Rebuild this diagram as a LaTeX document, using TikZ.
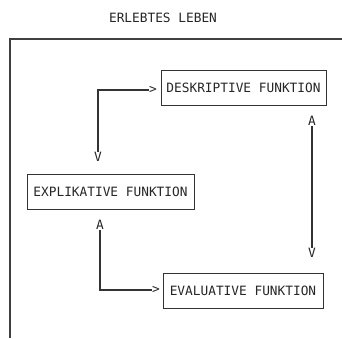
\documentclass[tikz,border=0pt]{standalone}
\usepackage{fontspec}
\newfontfamily\plotfont{DejaVu Sans Mono}
\begin{document}
\begin{tikzpicture}[x=1pt,y=-1pt]
\tikzstyle{every node}+=[inner sep=0pt,font=\plotfont\fontsize{12.8}{15}\selectfont,text=black!85]
\tikzstyle{fbox}=[draw=black!80,line width=0.8pt,minimum height=35pt]
\tikzstyle{wire}=[draw=black!80,line width=1.6pt]
\useasboundingbox (0,0) rectangle (342,338);
\draw [black!75,line width=1.1pt] (10,338) -- (10,39) -- (342,39);
\node (title) at (163,18) {ERLEBTES LEBEN};
\node [fbox,minimum width=165pt] (desk) at (243.5,88) {DESKRIPTIVE FUNKTION};
\node [fbox,minimum width=167pt] (expl) at (110.5,191.5) {EXPLIKATIVE FUNKTION};
\node [fbox,minimum width=160pt] (eval) at (243,290.5) {EVALUATIVE FUNKTION};
% character tips
\node (vL) at (98,157) {V};
\node (gtD) at (153,90) {>};
\node (aL) at (100,225) {A};
\node (gtE) at (156,290) {>};
\node (aR) at (312,121) {A};
\node (vR) at (312,253) {V};
% connectors
\draw [wire] (vL.north) |- (gtD.west);
\draw [wire] (aL.south) |- (gtE.west);
\draw [wire] (aR.south) -- (vR.north);
\end{tikzpicture}
\end{document}
